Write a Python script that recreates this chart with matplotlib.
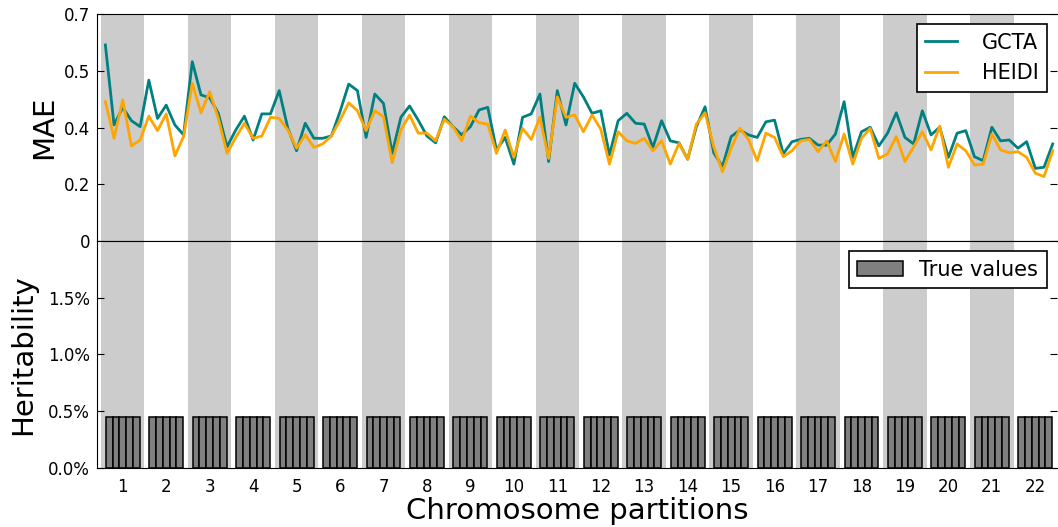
# MAE per partition (GCTA vs HEIDI) and true heritability per partition
import numpy as np
import matplotlib
matplotlib.use("Agg")
import matplotlib.pyplot as plt

chromosomes = [str(c) for c in range(1, 23)]
parts_per_chrom = 5

gcta = [0.691, 0.409, 0.471, 0.424, 0.403,
        0.567, 0.432, 0.479, 0.409, 0.374,
        0.632, 0.515, 0.505, 0.450, 0.332,
        0.391, 0.440, 0.356, 0.448, 0.448,
        0.530, 0.397, 0.318, 0.415, 0.362,
        0.362, 0.370, 0.456, 0.553, 0.530,
        0.365, 0.518, 0.485, 0.309, 0.436,
        0.476, 0.426, 0.370, 0.346, 0.438,
        0.403, 0.374, 0.403, 0.462, 0.471,
        0.321, 0.365, 0.271, 0.436, 0.448,
        0.518, 0.280, 0.530, 0.409, 0.556,
        0.508, 0.450, 0.459, 0.303, 0.424,
        0.450, 0.415, 0.412, 0.330, 0.424,
        0.353, 0.346, 0.288, 0.403, 0.473,
        0.311, 0.262, 0.368, 0.391, 0.374,
        0.365, 0.420, 0.426, 0.307, 0.350,
        0.358, 0.362, 0.338, 0.338, 0.377,
        0.491, 0.295, 0.385, 0.401, 0.335,
        0.380, 0.452, 0.365, 0.342, 0.459,
        0.374, 0.401, 0.295, 0.380, 0.389,
        0.297, 0.283, 0.401, 0.353, 0.356,
        0.327, 0.350, 0.256, 0.260, 0.342]

heidi = [0.491, 0.362, 0.497, 0.335, 0.356,
         0.440, 0.389, 0.448, 0.300, 0.368,
         0.556, 0.452, 0.526, 0.432, 0.309,
         0.365, 0.415, 0.362, 0.370, 0.436,
         0.432, 0.391, 0.327, 0.374, 0.330,
         0.342, 0.370, 0.426, 0.487, 0.459,
         0.389, 0.459, 0.438, 0.276, 0.391,
         0.444, 0.380, 0.380, 0.353, 0.429,
         0.403, 0.353, 0.440, 0.417, 0.412,
         0.309, 0.391, 0.295, 0.397, 0.358,
         0.436, 0.291, 0.508, 0.436, 0.444,
         0.385, 0.444, 0.394, 0.271, 0.385,
         0.353, 0.344, 0.362, 0.318, 0.353,
         0.271, 0.344, 0.288, 0.412, 0.452,
         0.332, 0.244, 0.327, 0.397, 0.358,
         0.283, 0.380, 0.365, 0.297, 0.318,
         0.353, 0.358, 0.315, 0.353, 0.280,
         0.377, 0.271, 0.362, 0.397, 0.291,
         0.307, 0.368, 0.280, 0.332, 0.385,
         0.321, 0.405, 0.260, 0.342, 0.318,
         0.268, 0.271, 0.377, 0.321, 0.311,
         0.315, 0.295, 0.239, 0.227, 0.318]

true_h2 = [0.0045, 0.0045, 0.0045, 0.0045, 0.0045] * 22

mae_ticks = [0, 0.2, 0.4, 0.6, 0.8]
mae_ticklabels = ['0', '0.2', '0.4', '0.5', '0.7']
h2_ticks = [0, 0.005, 0.010, 0.015]
h2_ticklabels = ['0.0%', '0.5%', '1.0%', '1.5%']

n_parts = len(gcta)
n_chrom = len(chromosomes)
bar_w = 0.78

fig = plt.figure(figsize=(10.58, 5.27), dpi=100)
ax1 = fig.add_axes([0.0917, 0.5427, 0.9074, 0.4307])
ax2 = fig.add_axes([0.0917, 0.1120, 0.9074, 0.4307])

for ax in (ax1, ax2):
    for c in range(0, n_chrom, 2):
        ax.axvspan(c * parts_per_chrom, (c + 1) * parts_per_chrom,
                   color='#cccccc', lw=0, zorder=0)
    ax.set_xlim(-0.46, n_parts)
    ax.tick_params(axis='y', direction='in', right=True, length=5,
                   labelsize=12, pad=5)
    ax.tick_params(axis='x', length=0, labelsize=12, pad=7)
    ax.spines['right'].set_visible(False)

# top: MAE lines
xs = np.arange(n_parts) + 0.5
ax1.plot(xs, gcta, color='#008080', lw=2, label='GCTA')
ax1.plot(xs, heidi, color='#ffa500', lw=2, label='HEIDI')
ax1.set_ylim(0, 0.8)
ax1.set_yticks(mae_ticks)
ax1.set_yticklabels(mae_ticklabels)
ax1.set_xticks([])
ax1.set_ylabel('MAE', fontsize=21)
leg1 = ax1.legend(loc='upper right', fontsize=15, fancybox=False,
                  edgecolor='black', framealpha=1, handlelength=1.5,
                  handletextpad=1.2)
leg1.get_frame().set_linewidth(1.2)

# bottom: true heritability bars
bar_x = []
for c in range(n_chrom):
    for j in range(parts_per_chrom):
        bar_x.append(c * parts_per_chrom + 2.5 + (j - 2) * bar_w)
ax2.bar(bar_x, true_h2, width=bar_w, color='#808080', edgecolor='black',
        lw=1.1, label='True values', zorder=2)
ax2.set_ylim(0, 0.02)
ax2.set_yticks(h2_ticks)
ax2.set_yticklabels(h2_ticklabels)
ax2.set_xticks(np.arange(n_chrom) * parts_per_chrom + 2.5)
ax2.set_xticklabels(chromosomes)
ax2.set_ylabel('Heritability', fontsize=21, labelpad=8)
ax2.set_xlabel('Chromosome partitions', fontsize=21, labelpad=1)
leg2 = ax2.legend(loc='upper right', fontsize=15, fancybox=False,
                  edgecolor='black', framealpha=1, handlelength=2.2,
                  handletextpad=0.8)
leg2.get_frame().set_linewidth(1.2)

fig.savefig('out.png', dpi=100)
